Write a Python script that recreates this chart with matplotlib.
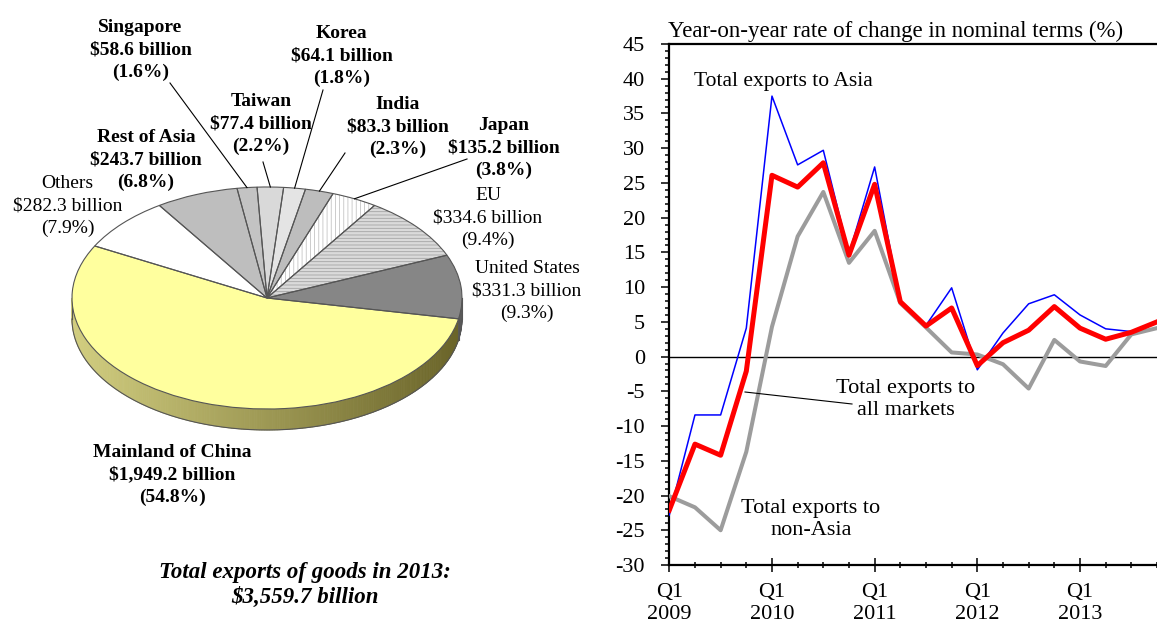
import numpy as np
import matplotlib
matplotlib.use("Agg")
import matplotlib.pyplot as plt

plt.rcParams['font.family'] = ['Liberation Serif', 'DejaVu Serif']
plt.rcParams['axes.unicode_minus'] = False
plt.rcParams['hatch.linewidth'] = 0.6

W, H = 1157, 626

# ---- Pie: destinations of total exports, 2013 (clockwise from upper left) ----
markets = ["Rest of Asia", "Singapore", "Taiwan", "Korea", "India", "Japan",
           "EU", "United States", "Mainland of China", "Others"]
exports_bn = [243.7, 58.6, 77.4, 64.1, 83.3, 135.2, 334.6, 331.3, 1949.2, 282.3]
shares_pct = [6.8, 1.6, 2.2, 1.8, 2.3, 3.8, 9.4, 9.3, 54.8, 7.9]
total_bn = 3559.7

# ---- Lines: year-on-year change (%), Q1 2009 .. Q4 2013 ----
quarters = np.arange(20)
exports_asia = [-22.8, -8.4, -8.4, 4.1, 37.5, 27.6, 29.7, 14.8, 27.3, 7.9,
                4.5, 9.9, -1.9, 3.4, 7.6, 8.9, 6.0, 4.0, 3.6, 4.9]
exports_all = [-22.1, -12.6, -14.2, -2.1, 26.1, 24.4, 27.9, 14.6, 24.8, 7.9,
               4.4, 7.0, -1.3, 2.0, 3.8, 7.2, 4.1, 2.5, 3.5, 5.0]
exports_non_asia = [-20.1, -21.7, -25.0, -13.7, 4.3, 17.3, 23.7, 13.5, 18.1, 7.7,
                    4.2, 0.6, 0.3, -1.1, -4.6, 2.4, -0.7, -1.35, 3.2, 4.1]
year_ticks = [0, 4, 8, 12, 16]
year_labels = ["Q1\n2009", "Q1\n2010", "Q1\n2011", "Q1\n2012", "Q1\n2013"]
y_ticks = list(range(-30, 46, 5))
y_labels = [str(v) for v in y_ticks]

fig = plt.figure(figsize=(W / 100, H / 100), dpi=100)


def px_axes(left, top, right, bottom):
    return fig.add_axes([left / W, 1 - bottom / H, (right - left) / W, (bottom - top) / H])


# ---------------- line chart ----------------
x0_px, q_px = 669.3, 26.05
ax = px_axes(x0_px, 44, W, 565)
ax.plot(quarters, exports_non_asia, color='#9c9c9c', lw=2.9, zorder=3)
ax.plot(quarters, exports_asia, color='#0000ff', lw=1.1, zorder=4)
ax.plot(quarters, exports_all, color='#ff0000', lw=3.6, zorder=5)
ax.axhline(0, color='black', lw=1.0, zorder=2)
ax.set_xlim(0, (W - x0_px) / q_px)
ax.set_ylim(-30, 45)
ax.set_yticks(y_ticks, y_labels)
ax.set_yticks(range(-30, 46), minor=True)
ax.set_xticks(year_ticks, year_labels)
ax.set_xticks(quarters, minor=True)
ax.tick_params(axis='y', which='major', direction='out', length=5.5, width=1.1,
               labelsize=16, pad=12)
ax.tick_params(axis='y', which='minor', direction='out', length=3, width=1.1)
ax.tick_params(axis='x', which='major', direction='inout', length=10, width=1.1,
               labelsize=16, pad=8)
ax.tick_params(axis='x', which='minor', direction='inout', length=5, width=1.1)
for lbl in ax.get_xticklabels():
    lbl.set_linespacing(1.22)
ax.spines['right'].set_visible(False)
for s in ('left', 'bottom', 'top'):
    ax.spines[s].set_linewidth(1.6)

# overlay in pixel coordinates for labels and leader lines (drawn on top)
ov = px_axes(0, 0, W, H)
ov.set_xlim(0, W)
ov.set_ylim(H, 0)
ov.axis('off')
ov.set_zorder(10)

# ---------------- 3-D looking pie ----------------
cx, cy, ra, rb, depth = 267, 298, 195, 111, 21
start = 123.5
face_colors = ['#bebebe', '#c3c3c3', '#d9d9d9', '#e4e4e4', '#bdbdbd',
               '#ffffff', '#dadada', '#868686', '#ffff9e', '#ffffff']
hatches = [None, None, None, None, None, '||||', '-----', None, None, None]
hatch_cols = ['none'] * 5 + ['#c4c4c4', '#a4a4a4'] + ['none'] * 3

axp = px_axes(cx - ra, cy - rb, cx + ra, cy + rb + depth)
dz = depth / rb

# side wall (visible lower half)
bounds = start - 360.0 * np.cumsum([0] + exports_bn) / total_bn
us_i = markets.index("United States")
steps = np.linspace(180, 360, 241)
for a0, a1 in zip(steps[:-1], steps[1:]):
    m = 0.5 * (a0 + a1)
    pos = (start - m) % 360.0
    frac = pos / 360.0 * total_bn
    idx = int(np.searchsorted(np.cumsum(exports_bn), frac))
    t = (np.cos(np.radians(m)) + 1) / 2
    if idx == us_i:
        c = np.array([120, 120, 120]) * (1 - 0.25 * t)
    else:
        light = np.array([210, 206, 128])
        dark = np.array([105, 99, 40])
        c = light * (1 - t) + dark * t
    col = tuple(np.clip(c, 0, 255) / 255)
    th = np.radians([a0, a1, a1, a0])
    xs = np.cos(th)
    ys = np.sin(th) - np.array([0, 0, dz, dz])
    axp.fill(xs, ys, color=col, lw=0.6, clip_on=False, zorder=1)

arc = np.radians(np.linspace(180, 360, 200))
axp.plot(np.cos(arc), np.sin(arc) - dz, color='#555555', lw=0.8, clip_on=False, zorder=2)
for ang in (180, 360, bounds[us_i + 1] % 360):
    r = np.radians(ang)
    axp.plot([np.cos(r)] * 2, [np.sin(r), np.sin(r) - dz], color='#555555', lw=0.8,
             clip_on=False, zorder=2)

wedges, _ = axp.pie(exports_bn, colors=face_colors, startangle=start, counterclock=False,
                    radius=1, wedgeprops=dict(linewidth=0, clip_on=False, zorder=3))
for w, h, hc in zip(wedges, hatches, hatch_cols):
    if h:
        w.set_hatch(h)
        w.set_edgecolor(hc)
axp.pie(exports_bn, colors=['none'] * len(exports_bn), startangle=start, counterclock=False,
        radius=1, wedgeprops=dict(linewidth=0.8, edgecolor='#555555', fill=False,
                                  clip_on=False, zorder=4))
axp.set_aspect('auto')
axp.set_xlim(-1, 1)
axp.set_ylim(-1 - dz, 1)
axp.axis('off')

# pie labels
label_pos = [(146, 160), (140.5, 50), (261, 124), (341.5, 56), (397.5, 127),
             (504, 148), (488, 218), (527, 291), (172.5, 475), (67.5, 206)]
bold = [True, True, True, True, True, True, False, False, True, False]
for name, val, pct, (lx, ly), b in zip(markets, exports_bn, shares_pct, label_pos, bold):
    ov.text(lx, ly, f"{name}\n\\${val:,.1f} billion\n({pct:.1f}%)", ha='center', va='center',
            fontsize=14, fontweight='bold' if b else 'normal', linespacing=1.38)

# leader lines from small-slice labels to the rim
leader_from = {"Singapore": (170, 83), "Taiwan": (263, 162), "Korea": (323, 90),
               "India": (345, 153), "Japan": (467, 159)}
for name, (sx, sy) in leader_from.items():
    i = markets.index(name)
    mid = np.radians(0.5 * (bounds[i] + bounds[i + 1]))
    ex, ey = cx + ra * np.cos(mid), cy - rb * np.sin(mid)
    ov.plot([sx, ex], [sy, ey], color='black', lw=0.8)

ov.text(305, 585, "Total exports of goods in 2013:\n\\$3,559.7 billion", ha='center',
        va='center', fontsize=16.5, fontweight='bold', fontstyle='italic', linespacing=1.2)

# line chart captions
ov.text(668, 36.5, "Year-on-year rate of change in nominal terms (%)", ha='left',
        va='baseline', fontsize=16.5)
ov.text(694, 86, "Total exports to Asia", ha='left', va='baseline', fontsize=15.5)
ov.text(906, 415, "Total exports to\nall markets", ha='center', va='baseline',
        fontsize=16, linespacing=1.25)
ov.plot([745, 852], [392, 404], color='black', lw=0.8)
ov.text(811, 535, "Total exports to\nnon-Asia", ha='center', va='baseline',
        fontsize=16, linespacing=1.25)

fig.savefig("out.png", dpi=100)
